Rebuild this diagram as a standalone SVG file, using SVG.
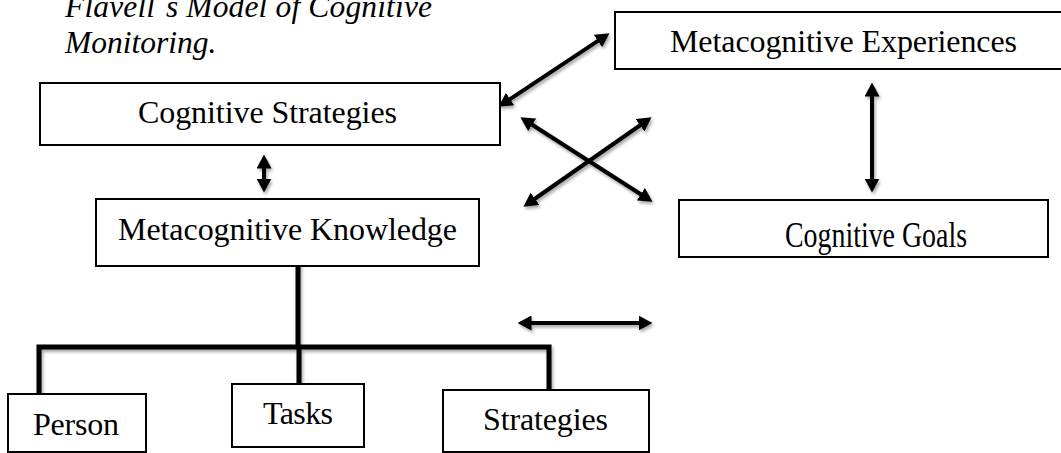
<svg xmlns="http://www.w3.org/2000/svg" width="1061" height="453" viewBox="0 0 1061 453">
<defs>
<style>
.box{fill:#fff;stroke:#000;stroke-width:2}
.lbl{font-family:"Liberation Serif","Times New Roman",serif;font-size:32px;fill:#000;text-anchor:middle}
.title{font-family:"Liberation Serif","Times New Roman",serif;font-size:31.5px;font-style:italic;fill:#000}
.arr{stroke:#000;stroke-width:4;fill:none;marker-start:url(#head);marker-end:url(#head)}
.tree{stroke:#000;stroke-width:5;fill:none}
</style>
<marker id="head" markerUnits="userSpaceOnUse" viewBox="0 -7.5 14 15" markerWidth="14" markerHeight="15" refX="0.5" refY="0" orient="auto-start-reverse">
<path d="M0,-7.5 L14,0 L0,7.5 z" fill="#000"/>
</marker>
<filter id="sh" x="-20%" y="-20%" width="140%" height="140%">
<feDropShadow dx="1.5" dy="2.5" stdDeviation="1.8" flood-color="#000" flood-opacity="0.35"/>
</filter>
</defs>
<rect width="1061" height="453" fill="#fff"/>
<g id="title">
<text class="title" x="65" y="17" textLength="367">Flavell´s Model of Cognitive</text>
<text class="title" x="65" y="53">Monitoring.</text>
</g>
<g id="connectors" filter="url(#sh)">
<line class="arr" x1="509.7" y1="99.3" x2="598.3" y2="40.7"/>
<line class="arr" x1="531.8" y1="124.5" x2="641.2" y2="194.5"/>
<line class="arr" x1="534.5" y1="199" x2="640.5" y2="125"/>
<line class="arr" x1="872" y1="96" x2="872" y2="179"/>
<line class="arr" x1="264" y1="168" x2="264" y2="179"/>
<line class="arr" x1="531" y1="323" x2="639" y2="323"/>
<path class="tree" d="M298,262 V347 M39,395 V347 H549 V395 M299,347 V383"/>
</g>
<g id="cognitive-strategies">
<rect class="box" x="40" y="83" width="460" height="62"/>
<text class="lbl" x="267.5" y="123" textLength="259">Cognitive Strategies</text>
</g>
<g id="metacognitive-experiences">
<rect class="box" x="615" y="12" width="460" height="57"/>
<text class="lbl" x="843.5" y="52" textLength="347">Metacognitive Experiences</text>
</g>
<g id="metacognitive-knowledge">
<rect class="box" x="96" y="199" width="383" height="67"/>
<text class="lbl" x="287.5" y="240" textLength="339">Metacognitive Knowledge</text>
</g>
<g id="cognitive-goals">
<rect class="box" x="679" y="200" width="369" height="57"/>
<text class="lbl" x="876" y="247" textLength="182" lengthAdjust="spacingAndGlyphs" style="font-size:36px">Cognitive Goals</text>
</g>
<g id="person">
<rect class="box" x="8" y="394" width="138" height="58"/>
<text class="lbl" x="76" y="435" textLength="86">Person</text>
</g>
<g id="tasks">
<rect class="box" x="232" y="384" width="132" height="63"/>
<text class="lbl" x="298" y="424" textLength="70">Tasks</text>
</g>
<g id="strategies">
<rect class="box" x="443" y="390" width="206" height="62"/>
<text class="lbl" x="545.5" y="430" textLength="125">Strategies</text>
</g>
</svg>
